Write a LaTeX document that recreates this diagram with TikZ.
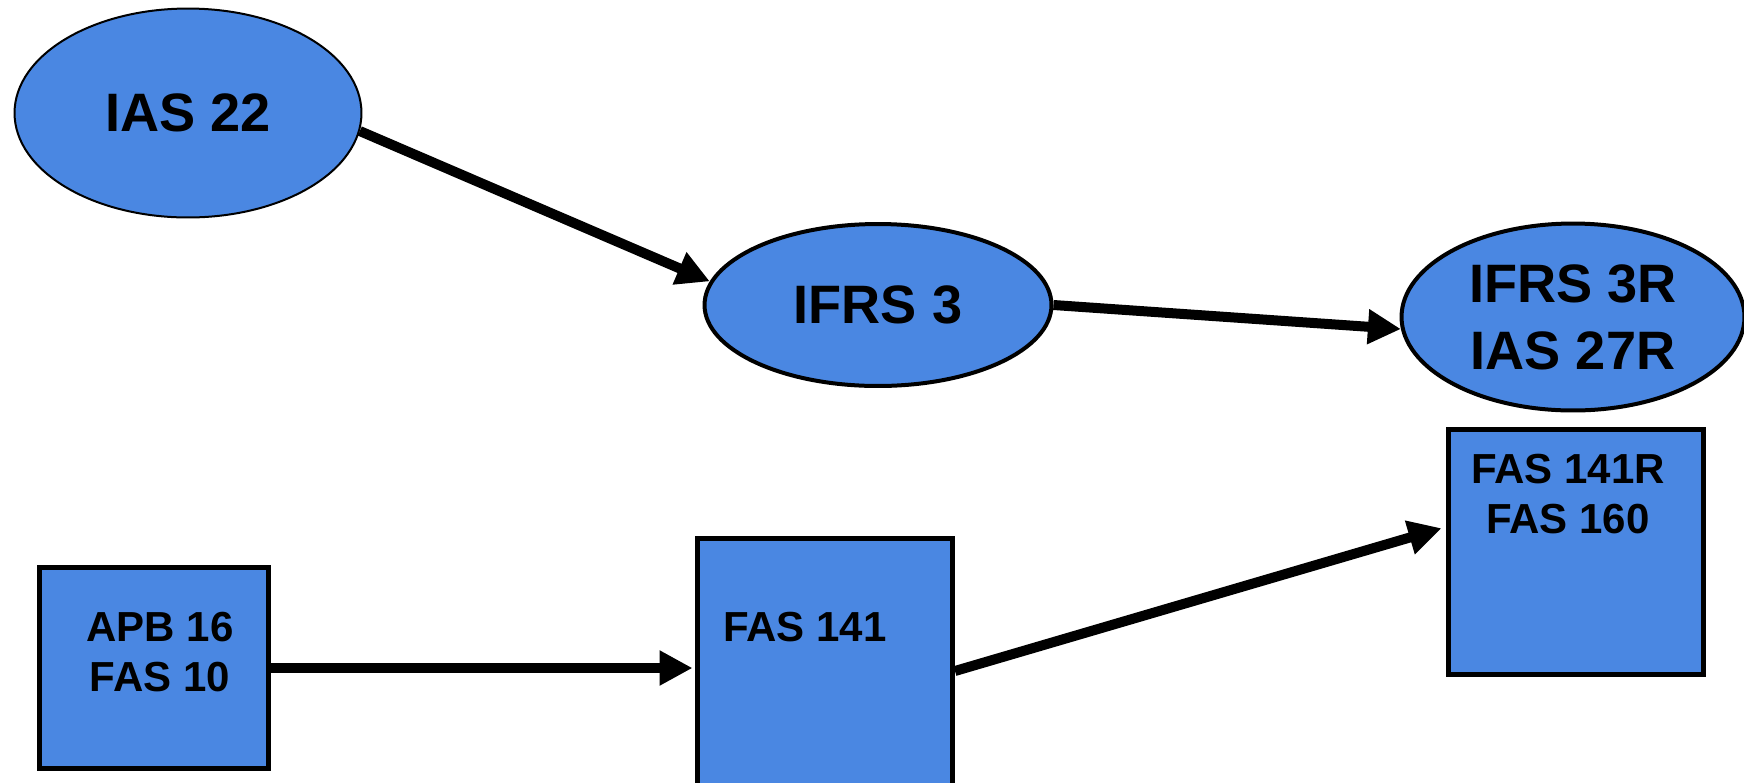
\documentclass[tikz,border=0pt]{standalone}
\usepackage{fontspec}
\setmainfont{Liberation Sans}
\usetikzlibrary{arrows.meta,shapes.geometric}
\definecolor{stdblue}{RGB}{74,135,226}
\tikzset{
	oval/.style={ellipse, draw=black, fill=stdblue, line width=0.8mm, align=center, inner sep=0pt, font=\fontsize{30.8}{38}\selectfont\bfseries},
	stdbox/.style={rectangle, draw=black, fill=stdblue, line width=1mm, inner sep=0pt},
	boxtext/.style={align=center, inner sep=0pt, font=\fontsize{23.9}{28.5}\selectfont\bfseries},
	push/.style={line width=2mm, -{Triangle[length=6.6mm, width=6.6mm]}}
}

\begin{document}
\begin{tikzpicture}[x=0.02cm, y=-0.02cm]
		%%%%% START %%%%%
		
		\clip (0, 0) rectangle (1744, 782);
		
		\node[oval, line width=0.4mm, minimum width=6.94cm, minimum height=4.18cm] (ias22) at (188, 113) {IAS 22};
		\node[oval, minimum width=6.94cm, minimum height=3.24cm] (ifrs3) at (878, 305) {IFRS 3};
		\node[oval, minimum width=6.86cm, minimum height=3.74cm] (ifrs3r) at (1573, 317) {IFRS 3R\\IAS 27R};
		
		\node[stdbox, minimum width=4.58cm, minimum height=4.02cm] (apb) at (154, 668) {};
		\node[stdbox, minimum width=5.1cm, minimum height=5.3cm] (fas141) at (825, 671) {};
		\node[stdbox, minimum width=5.09cm, minimum height=4.89cm] (fas141r) at (1576, 552) {};
		
		\node[boxtext] (apbtext) at (160, 652) {APB 16\\FAS 10};
		\node[boxtext] (fas141text) at (805, 627) {FAS 141};
		\node[boxtext] (fas141rtext) at (1568, 494) {FAS 141R\\FAS 160};
		
		\draw[push] (ias22.-6) -- (ifrs3.172);
		\draw[push] (ifrs3.east) -- (ifrs3r.184);
		\draw[push, shorten >=0.5mm] (apb.east) -- (fas141.west |- apb.east);
		\draw[push, shorten >=1mm] (fas141.east) -- (fas141r.169);
		
		%%%%% END %%%%%
	\end{tikzpicture}
\end{document}
